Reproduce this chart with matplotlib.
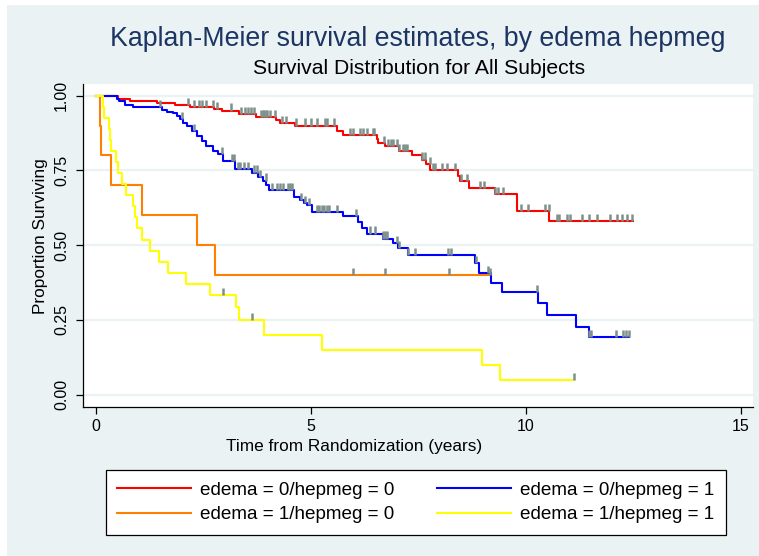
import numpy as np
import matplotlib
matplotlib.use("Agg")
import matplotlib.pyplot as plt
from matplotlib.patches import Rectangle
from matplotlib.lines import Line2D

plt.rcParams['font.family'] = ['Liberation Sans', 'DejaVu Sans']

# ---------------- data ----------------
labels = ["edema = 0/hepmeg = 0", "edema = 1/hepmeg = 0",
          "edema = 0/hepmeg = 1", "edema = 1/hepmeg = 1"]

red_t = [0, 0.52, 0.80, 1.42, 1.84, 2.19, 2.74, 2.93, 3.34, 3.73, 4.19, 4.29, 4.63,
         5.60, 5.74, 6.53, 6.57, 6.73, 7.04, 7.35, 7.58, 7.68, 7.77, 8.43, 8.48,
         8.67, 9.29, 9.79, 10.54]
red_s = [1.0, 0.989, 0.983, 0.976, 0.969, 0.963, 0.956, 0.950, 0.939, 0.928, 0.919,
         0.909, 0.900, 0.883, 0.869, 0.856, 0.842, 0.831, 0.814, 0.800, 0.786, 0.772,
         0.752, 0.733, 0.713, 0.692, 0.670, 0.614, 0.581]
red_end = 12.48
red_cens = [2.15, 2.29, 2.39, 2.46, 2.57, 2.72, 2.81, 3.14, 3.37, 3.47, 3.55, 3.61,
            3.67, 3.84, 3.88, 3.92, 3.96, 3.99, 4.05, 4.17, 4.33, 4.43, 4.66, 4.87,
            5.01, 5.14, 5.32, 5.37, 5.55, 5.91, 5.98, 6.15, 6.21, 6.30, 6.44, 6.46,
            6.70, 6.80, 6.86, 6.90, 7.00, 7.04, 7.14, 7.19, 7.23, 7.58, 7.66, 7.76,
            7.85, 7.89, 8.05, 8.16, 8.35, 8.49, 8.63, 8.94, 9.03, 9.29, 9.36, 9.46,
            9.88, 10.06, 10.45, 10.53, 10.72, 10.78, 10.95, 11.03, 11.30, 11.46,
            11.65, 11.96, 12.12, 12.23, 12.35, 12.47]

blue_t = [0, 0.50, 0.55, 0.68, 0.875, 1.55, 1.65, 1.80, 1.88, 1.96, 2.04, 2.12, 2.23,
          2.35, 2.46, 2.57, 2.73, 2.85, 2.97, 3.24, 3.63, 3.78, 3.90, 3.97, 4.02,
          4.60, 4.74, 4.85, 4.92, 5.04, 5.76, 6.10, 6.20, 6.30, 6.67, 6.90, 7.03,
          7.25, 8.82, 8.90, 9.19, 9.44, 10.29, 10.50, 11.17, 11.47]
blue_s = [1.0, 0.990, 0.981, 0.970, 0.961, 0.952, 0.946, 0.941, 0.932, 0.921, 0.910,
          0.899, 0.882, 0.866, 0.849, 0.832, 0.816, 0.804, 0.782, 0.754, 0.743, 0.727,
          0.716, 0.700, 0.683, 0.661, 0.650, 0.642, 0.633, 0.611, 0.597, 0.578, 0.559,
          0.539, 0.522, 0.506, 0.489, 0.467, 0.439, 0.406, 0.374, 0.344, 0.306, 0.267,
          0.228, 0.192]
blue_end = 12.40
blue_cens = [1.50, 2.01, 2.28, 2.94, 3.16, 3.22, 3.30, 3.35, 3.45, 3.55, 3.68, 3.75,
             3.82, 3.96, 4.09, 4.21, 4.29, 4.35, 4.46, 4.52, 4.56, 4.77, 4.87, 4.95,
             5.14, 5.20, 5.25, 5.31, 5.37, 5.43, 5.60, 6.06, 6.38, 6.49, 6.69, 6.73,
             6.77, 7.00, 7.04, 7.27, 7.43, 8.20, 8.26, 8.85, 9.12, 10.26, 11.47, 11.52,
             12.10, 12.25, 12.33, 12.40]

orange_t = [0, 0.09, 0.13, 0.36, 1.07, 2.35, 2.77]
orange_s = [1.0, 0.9, 0.8, 0.7, 0.6, 0.5, 0.4]
orange_end = 9.17
orange_cens = [5.98, 6.73, 8.22, 9.17]

yellow_t = [0, 0.17, 0.20, 0.30, 0.34, 0.36, 0.48, 0.52, 0.60, 0.71, 0.87, 0.91, 0.97,
            1.08, 1.26, 1.48, 1.67, 2.09, 2.66, 3.26, 3.33, 3.92, 5.27, 8.99, 9.39]
yellow_s = [1.0, 0.963, 0.926, 0.889, 0.852, 0.815, 0.778, 0.741, 0.704, 0.667, 0.630,
            0.593, 0.556, 0.519, 0.481, 0.444, 0.407, 0.370, 0.333, 0.292, 0.250,
            0.200, 0.150, 0.100, 0.050]
yellow_end = 11.11
yellow_cens = [2.95, 3.64, 11.11]

x_ticks = [0, 5, 10, 15]
y_ticks = [0.0, 0.25, 0.5, 0.75, 1.0]
y_ticklabels = ["0.00", "0.25", "0.50", "0.75", "1.00"]

# ---------------- figure ----------------
W, H = 759, 556
fig = plt.figure(figsize=(W / 100, H / 100), dpi=100, facecolor='white')
bg = '#eaf2f3'
fig.patches.append(Rectangle((7 / W, 0), 1 - 7 / W, 1 - 5 / H, transform=fig.transFigure,
                             facecolor=bg, edgecolor='none', zorder=-10))

ax = fig.add_axes([83 / W, 1 - 407 / H, (753 - 83) / W, (407 - 84) / H])
ax.set_facecolor('white')
ax.set_xlim(-0.295, 15.28)
ax.set_ylim(-0.041, 1.039)

for s in ['top', 'right']:
    ax.spines[s].set_visible(False)
for s in ['left', 'bottom']:
    ax.spines[s].set_linewidth(0.9)
    ax.spines[s].set_color('black')

ax.set_xticks(x_ticks)
ax.set_yticks(y_ticks)
ax.set_yticklabels(y_ticklabels, rotation=90, va='center')
ax.tick_params(axis='both', length=5, width=0.9, colors='black', labelsize=11.5)
ax.tick_params(axis='y', pad=5)
ax.tick_params(axis='x', pad=3.5)
ax.yaxis.grid(True, color=bg, lw=1.6, zorder=0)
ax.set_axisbelow(True)

cens_color = '#7d918b'
groups = [
    (red_t, red_s, red_end, red_cens, '#ff0000'),
    (orange_t, orange_s, orange_end, orange_cens, '#ff8000'),
    (blue_t, blue_s, blue_end, blue_cens, '#0000ff'),
    (yellow_t, yellow_s, yellow_end, yellow_cens, '#ffff00'),
]
handles = []
for (t, s, tend, cens, col), lab in zip(groups, labels):
    tt = list(t) + [tend]
    ss = list(s) + [s[-1]]
    ax.step(tt, ss, where='post', color=col, lw=1.5, zorder=3)
    handles.append(Line2D([], [], color=col, lw=1.5))
    idx = np.searchsorted(np.array(t), np.array(cens), side='right') - 1
    cy = np.array(s)[idx]
    ax.vlines(cens, cy, cy + 0.024, color=cens_color, lw=1.8, zorder=4)

# titles and axis titles
fig.text(418 / W, 1 - 39 / H, "Kaplan-Meier survival estimates, by edema hepmeg",
         ha='center', va='center', fontsize=19.3, color='#1c3563')
fig.text(419 / W, 1 - 68 / H, "Survival Distribution for All Subjects",
         ha='center', va='center', fontsize=15.2, color='black')
fig.text(40.5 / W, 1 - 236 / H, "Proportion Surviving", rotation=90,
         ha='center', va='center', fontsize=12.4)
fig.text(354 / W, 1 - 447 / H, "Time from Randomization (years)",
         ha='center', va='center', fontsize=12.4)

leg = fig.legend(handles, labels, loc='upper left',
                 bbox_to_anchor=(106 / W, 1 - 533 / H, 620 / W, 63 / H), mode='expand',
                 ncol=2, frameon=True, fancybox=False, edgecolor='black', framealpha=1,
                 fontsize=13.6, handlelength=3.9, handletextpad=0.5, columnspacing=1.9,
                 borderpad=0.6, labelspacing=0.4, borderaxespad=0)
leg.get_frame().set_linewidth(0.9)

fig.savefig('out.png', dpi=100, facecolor=fig.get_facecolor())
